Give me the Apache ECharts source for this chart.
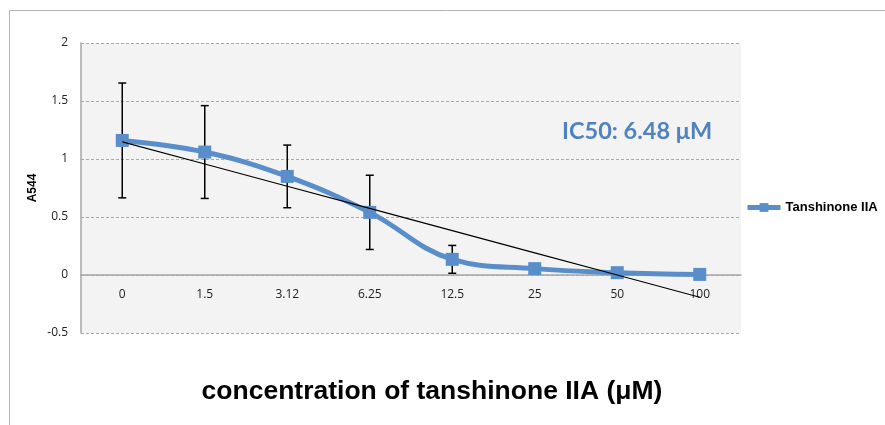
<!DOCTYPE html>
<html>
<head>
<meta charset="utf-8">
<script src="https://cdn.jsdelivr.net/npm/echarts@6/dist/echarts.min.js"></script>
<style>
  html, body { margin: 0; padding: 0; background: #fff; }
  #chart { width: 885px; height: 425px; }
</style>
</head>
<body>
<div id="chart"></div>
<script>
// Tanshinone IIA dose-response on A544 cells
const concentrations = ['0', '1.5', '3.12', '6.25', '12.5', '25', '50', '100'];
const absorbance = [1.16, 1.06, 0.85, 0.54, 0.135, 0.055, 0.02, 0.005];
const errorSD = [0.495, 0.40, 0.27, 0.32, 0.12, 0.02, 0.01, 0.01];
const yTicks = { min: -0.5, max: 2, step: 0.5 };
const ic50Label = 'IC50: 6.48 μM';
const xTitle = 'concentration of tanshinone IIA (μM)';

// Least-squares linear trendline over category positions 1..n
function linearTrend(values) {
  const n = values.length;
  const xs = values.map((_, i) => i + 1);
  const mx = xs.reduce((a, b) => a + b, 0) / n;
  const my = values.reduce((a, b) => a + b, 0) / n;
  let sxy = 0, sxx = 0;
  for (let i = 0; i < n; i++) {
    sxy += (xs[i] - mx) * (values[i] - my);
    sxx += (xs[i] - mx) * (xs[i] - mx);
  }
  const slope = sxy / sxx;
  return xs.map(x => my + slope * (x - mx));
}
const trend = linearTrend(absorbance);

const errorData = absorbance.map((v, i) => [i, v - errorSD[i], v + errorSD[i]]);

const chart = echarts.init(document.getElementById('chart'), null, { renderer: 'canvas' });
const blue = '#5a8ecb';
const gridTop = 43, gridHeight = 290;
// pixel offset between the bottom edge and the zero line, so category labels sit just under y = 0
const zeroOffset = gridHeight * (0 - yTicks.min) / (yTicks.max - yTicks.min);

chart.setOption({
  animation: false,
  backgroundColor: '#ffffff',
  grid: {
    left: 81, top: gridTop, width: 660, height: gridHeight,
    containLabel: false,
    outerBoundsMode: 'none',
    show: true, backgroundColor: '#f3f3f3', borderWidth: 0
  },
  legend: {
    data: ['Tanshinone IIA'],
    left: 745, top: 201,
    padding: 0,
    itemWidth: 33, itemHeight: 11, itemGap: 0,
    lineStyle: { width: 5 },
    textStyle: { fontFamily: 'Liberation Sans', fontWeight: 'bold', fontSize: 13, color: '#000' }
  },
  xAxis: [
    {
      type: 'category',
      data: concentrations,
      boundaryGap: true,
      axisLine: { onZero: true, lineStyle: { color: '#a6a6a6', width: 1.5 } },
      axisTick: { show: false },
      axisLabel: { show: false },
      splitLine: { show: false }
    },
    {
      type: 'category',
      data: concentrations,
      boundaryGap: true,
      position: 'bottom',
      offset: -zeroOffset,
      axisLine: { show: false },
      axisTick: { show: false },
      axisLabel: { margin: 14, fontFamily: 'Open Sans', fontSize: 12, color: '#222' },
      splitLine: { show: false }
    }
  ],
  yAxis: {
    type: 'value',
    min: yTicks.min, max: yTicks.max, interval: yTicks.step,
    axisLine: { show: true, lineStyle: { color: '#a6a6a6', width: 1.5 } },
    axisTick: { show: false },
    axisLabel: { margin: 13, fontFamily: 'Open Sans', fontSize: 12, color: '#222' },
    splitLine: { show: true, lineStyle: { color: '#a8a8a8', type: [3, 2], width: 1 } },
    name: 'A544',
    nameLocation: 'middle',
    nameGap: 42,
    nameMoveOverlap: false,
    nameTextStyle: { fontFamily: 'Liberation Sans', fontWeight: 'bold', fontSize: 12, color: '#000' }
  },
  graphic: [
    {
      type: 'polyline',
      shape: { points: [[9.5, 425], [9.5, 10.5], [885, 10.5]] },
      style: { stroke: '#b4b4b4', lineWidth: 1, fill: null },
      silent: true
    },
    {
      type: 'text',
      x: 562, y: 131,
      style: { text: ic50Label, fill: '#4f82bf', font: 'bold 23.5px Lato', verticalAlign: 'middle' }
    },
    {
      type: 'text',
      x: 432, y: 392,
      style: {
        text: xTitle, fill: '#000', font: 'bold 26.5px "Liberation Sans"',
        align: 'center', verticalAlign: 'middle'
      }
    }
  ],
  series: [
    {
      type: 'custom',
      name: 'error',
      data: errorData,
      z: 2,
      renderItem: function (params, api) {
        const i = api.value(0);
        const lo = api.coord([i, api.value(1)]);
        const hi = api.coord([i, api.value(2)]);
        const cap = 4;
        const st = { stroke: '#000', lineWidth: 1.5 };
        return {
          type: 'group',
          children: [
            { type: 'line', shape: { x1: hi[0], y1: hi[1], x2: lo[0], y2: lo[1] }, style: st },
            { type: 'line', shape: { x1: hi[0] - cap, y1: hi[1], x2: hi[0] + cap, y2: hi[1] }, style: st },
            { type: 'line', shape: { x1: lo[0] - cap, y1: lo[1], x2: lo[0] + cap, y2: lo[1] }, style: st }
          ]
        };
      }
    },
    {
      type: 'line',
      name: 'Tanshinone IIA',
      data: absorbance,
      smooth: 0.4,
      z: 3,
      symbol: 'rect',
      symbolSize: 13,
      lineStyle: { color: blue, width: 5 },
      itemStyle: { color: blue },
      emphasis: { disabled: true }
    },
    {
      type: 'line',
      name: 'trend',
      data: trend,
      z: 4,
      symbol: 'none',
      lineStyle: { color: '#000', width: 1.2 },
      emphasis: { disabled: true }
    }
  ]
});
</script>
</body>
</html>
